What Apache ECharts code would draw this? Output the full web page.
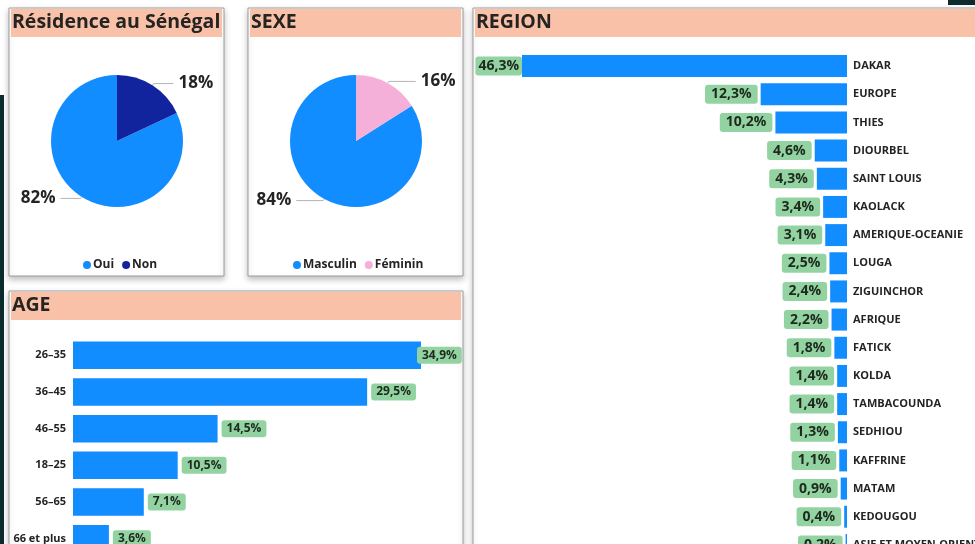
<!DOCTYPE html>
<html>
<head>
<meta charset="utf-8">
<script src="https://cdn.jsdelivr.net/npm/echarts@6/dist/echarts.min.js"></script>
<style>
html,body{margin:0;padding:0;background:#fff;overflow:hidden;}
#c{width:975px;height:620px;}
</style>
</head>
<body>
<div id="c"></div>
<script>
// ---- data ----
var residenceCats = ['Oui', 'Non'];
var residenceVals = [82, 18];
var sexeCats = ['Masculin', 'Féminin'];
var sexeVals = [84, 16];
var regionCats = ['DAKAR', 'EUROPE', 'THIES', 'DIOURBEL', 'SAINT LOUIS', 'KAOLACK', 'AMERIQUE-OCEANIE', 'LOUGA', 'ZIGUINCHOR', 'AFRIQUE', 'FATICK', 'KOLDA', 'TAMBACOUNDA', 'SEDHIOU', 'KAFFRINE', 'MATAM', 'KEDOUGOU', 'ASIE ET MOYEN-ORIENT'];
var regionVals = [46.3, 12.3, 10.2, 4.6, 4.3, 3.4, 3.1, 2.5, 2.4, 2.2, 1.8, 1.4, 1.4, 1.3, 1.1, 0.9, 0.4, 0.2];
var ageCats = ['26–35', '36–45', '46–55', '18–25', '56–65', '66 et plus'];
var ageVals = [34.9, 29.5, 14.5, 10.5, 7.1, 3.6];
var titles = ['Résidence au Sénégal', 'SEXE', 'REGION', 'AGE'];

// ---- styles ----
var FONT = '"Open Sans", "DejaVu Sans", sans-serif';
var BLUE = '#118DFF';
var NAVY = '#12239E';
var PINK = '#F4B0D9';
var BAND = '#F9C2A8';
var GREEN = '#93D3A2';
var TXT = '#252423';

function pct(v) { return String(v).replace('.', ',') + '%'; }

var panels = [
  {x: 9, y: 8, w: 215, h: 268},
  {x: 248, y: 8, w: 215, h: 268},
  {x: 473, y: 8, w: 520, h: 600},
  {x: 9, y: 291, w: 454, h: 320}
];

var graphics = [
  {type: 'rect', shape: {x: 0, y: 95, width: 4, height: 525}, style: {fill: '#0d2a2c'}, z: 0},
  {type: 'rect', shape: {x: 948, y: 0, width: 27, height: 5}, style: {fill: '#0d2a2c'}, z: 0}
];
panels.forEach(function (p) {
  graphics.push({type: 'rect', shape: {x: p.x, y: p.y, width: p.w, height: p.h},
    style: {fill: '#fff', stroke: '#9c9c9c', lineWidth: 1, shadowBlur: 6, shadowColor: 'rgba(0,0,0,0.25)', shadowOffsetY: 3}, z: 0});
  graphics.push({type: 'rect', shape: {x: p.x + 2, y: p.y + 1, width: p.w - 4, height: 28},
    style: {fill: BAND}, z: 0});
});

var titleComps = titles.map(function (t, i) {
  var p = panels[i];
  return {text: t, left: p.x + 3, top: p.y + 4,
    textStyle: {fontFamily: FONT, fontWeight: 'bold', fontSize: 19.5, color: TXT}, padding: 0};
});

function pieSeries(cats, vals, colors, cx, len2) {
  return {
    type: 'pie', center: [cx, 141], radius: 66, startAngle: 90, clockwise: false,
    avoidLabelOverlap: false,
    data: cats.map(function (c, i) { return {name: c, value: vals[i], itemStyle: {color: colors[i]}}; }),
    label: {formatter: function (p) { return p.value + '%'; }, fontFamily: FONT, fontWeight: 'bold', fontSize: 17, color: TXT},
    labelLine: {length: 2, length2: len2, lineStyle: {color: '#b5b5b5', width: 1}},
    emphasis: {disabled: true}
  };
}

var regionMax = Math.max.apply(null, regionVals);
var ageMax = Math.max.apply(null, ageVals);

var option = {
  animation: false,
  backgroundColor: '#fff',
  graphic: graphics,
  title: titleComps,
  legend: [
    {data: residenceCats, left: 78, top: 254, icon: 'circle', itemWidth: 8, itemHeight: 8, itemGap: 8,
      textStyle: {fontFamily: FONT, fontWeight: 'bold', fontSize: 12, color: TXT, padding: [0, 0, 0, -3]}},
    {data: sexeCats, left: 288, top: 254, icon: 'circle', itemWidth: 8, itemHeight: 8, itemGap: 8,
      textStyle: {fontFamily: FONT, fontWeight: 'bold', fontSize: 12, color: TXT, padding: [0, 0, 0, -3]}}
  ],
  grid: [
    {left: 522, width: 325, top: 52, height: 507, containLabel: false, outerBoundsMode: 'none'},
    {left: 73, width: 348, top: 337, height: 220, containLabel: false, outerBoundsMode: 'none'}
  ],
  xAxis: [
    {gridIndex: 0, type: 'value', inverse: true, min: 0, max: 'dataMax', show: false},
    {gridIndex: 1, type: 'value', min: 0, max: 'dataMax', show: false}
  ],
  yAxis: [
    {gridIndex: 0, type: 'category', data: regionCats, inverse: true, position: 'right',
      axisLine: {show: false}, axisTick: {show: false},
      axisLabel: {align: 'left', margin: 6, fontFamily: FONT, fontWeight: 'bold', fontSize: 11, color: TXT}},
    {gridIndex: 1, type: 'category', data: ageCats, inverse: true,
      axisLine: {show: false}, axisTick: {show: false},
      axisLabel: {margin: 7, fontFamily: FONT, fontWeight: 'bold', fontSize: 11, color: TXT}}
  ],
  series: [
    pieSeries(residenceCats, residenceVals, [BLUE, NAVY], 117, 20),
    pieSeries(sexeCats, sexeVals, [BLUE, PINK], 356, 27),
    {
      type: 'bar', xAxisIndex: 0, yAxisIndex: 0, barCategoryGap: '22%',
      data: regionVals.map(function (v) {
        var d = {value: v};
        if (v === regionMax) d.label = {distance: 0, padding: [3, 3, 2, 3]};
        return d;
      }),
      itemStyle: {color: BLUE},
      label: {show: true, position: 'left', distance: 3, formatter: function (p) { return pct(p.value); },
        backgroundColor: GREEN, borderRadius: 3, padding: [3, 6, 2, 6],
        fontFamily: FONT, fontWeight: 'bold', fontSize: 14, color: '#1d2a1d'},
      emphasis: {disabled: true}
    },
    {
      type: 'bar', xAxisIndex: 1, yAxisIndex: 1, barCategoryGap: '25%',
      data: ageVals.map(function (v) {
        var d = {value: v};
        if (v === ageMax) d.label = {offset: [-8, 0]};
        return d;
      }),
      itemStyle: {color: BLUE},
      label: {show: true, position: 'right', distance: 4, formatter: function (p) { return pct(p.value); },
        backgroundColor: GREEN, borderRadius: 3, padding: [3, 5, 2, 5],
        fontFamily: FONT, fontWeight: 'bold', fontSize: 12, color: '#1d2a1d'},
      emphasis: {disabled: true}
    }
  ]
};

var chart = echarts.init(document.getElementById('c'), null, {renderer: 'canvas'});
chart.setOption(option);
</script>
</body>
</html>
